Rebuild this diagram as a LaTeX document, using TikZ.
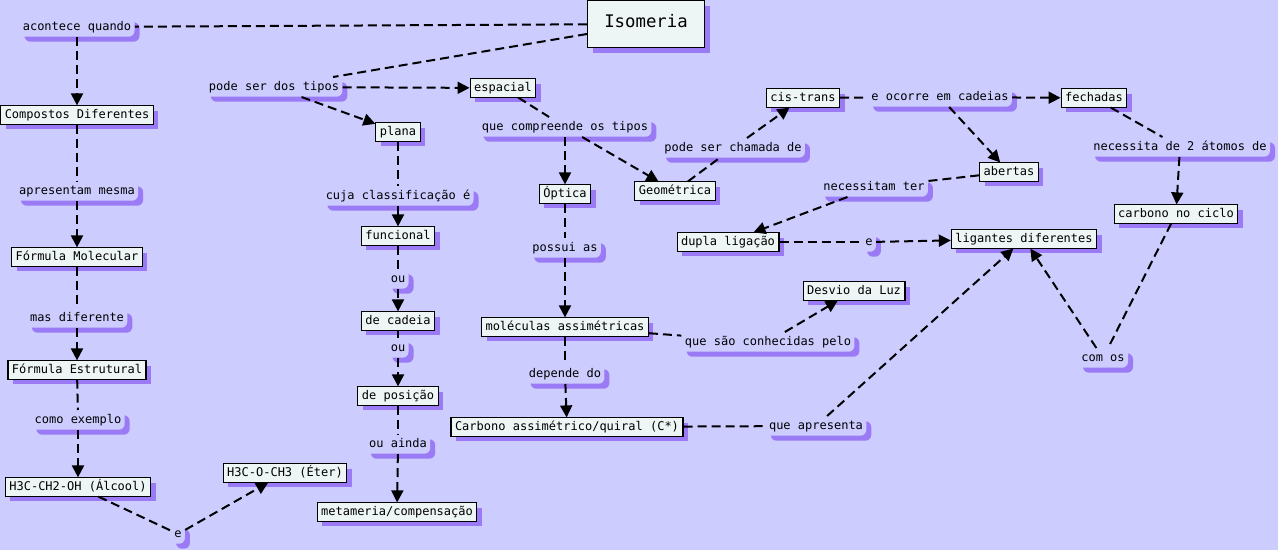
\documentclass[tikz,border=0pt]{standalone}
\usepackage{fontspec}
\setmainfont{DejaVu Sans Mono}
\usepackage{tikz}
\usetikzlibrary{arrows.meta, shadows}
\definecolor{fundo}{RGB}{204,204,255}
\definecolor{sombra}{RGB}{155,122,245}
\definecolor{caixa}{RGB}{238,245,245}

\begin{document}
\begin{tikzpicture}[x=0.75pt, y=-0.75pt,
		font=\fontsize{9}{11}\selectfont,
		conceito/.style={draw=black, line width=0.8pt, fill=caixa, inner xsep=3pt, inner ysep=2.5pt, text height=6.8pt, text depth=1.8pt, drop shadow={shadow xshift=3.75pt, shadow yshift=-3.75pt, fill=sombra, opacity=1}},
		ligacao/.style={fill=fundo, rounded corners=4.5pt, inner xsep=2.5pt, inner ysep=3pt, text height=6.8pt, text depth=1.8pt, drop shadow={shadow xshift=3.75pt, shadow yshift=-3.75pt, fill=sombra, opacity=1}},
		linha/.style={line width=1.5pt, dash pattern=on 6.75pt off 3.75pt},
		seta/.style={linha, -{Triangle[length=9pt, width=9pt]}}]
			\useasboundingbox (0,0) rectangle (1278,550);
			\fill[fundo] (0,0) rectangle (1278,550);

			\node[conceito, font=\fontsize{13}{15}\selectfont, minimum width=87.75pt, minimum height=35.25pt] (iso) at (646,24) {Isomeria};
			\node[ligacao] (acontece) at (77,27) {acontece quando};
			\node[ligacao] (tipos) at (274,87) {pode ser dos tipos};
			\node[conceito] (compostos) at (77,115) {Compostos Diferentes};
			\node[ligacao] (mesma) at (77,191) {apresentam mesma};
			\node[conceito] (molecular) at (77,257) {Fórmula Molecular};
			\node[ligacao] (diferente) at (77,318) {mas diferente};
			\node[conceito] (estrutural) at (77,370) {Fórmula Estrutural};
			\node[ligacao] (exemplo) at (78,420) {como exemplo};
			\node[conceito] (alcool) at (78,487) {H3C-CH2-OH (Álcool)};
			\node[ligacao] (e1) at (178,534) {e};
			\node[conceito] (eter) at (285,473) {H3C-O-CH3 (Éter)};
			\node[conceito] (plana) at (398,132) {plana};
			\node[ligacao] (cuja) at (398,196) {cuja classificação é};
			\node[conceito] (funcional) at (398,236) {funcional};
			\node[ligacao] (ou1) at (398,279) {ou};
			\node[conceito] (cadeia) at (398,321) {de cadeia};
			\node[ligacao] (ou2) at (398,348) {ou};
			\node[conceito] (posicao) at (398,396) {de posição};
			\node[ligacao] (ainda) at (398,444) {ou ainda};
			\node[conceito] (metameria) at (397,512) {metameria/compensação};
			\node[conceito] (espacial) at (503,88) {espacial};
			\node[ligacao] (compreende) at (565,127) {que compreende os tipos};
			\node[conceito] (optica) at (565,194) {Óptica};
			\node[conceito] (geometrica) at (675,191) {Geométrica};
			\node[ligacao] (chamada) at (733,148) {pode ser chamada de};
			\node[conceito] (cistrans) at (803,98) {cis-trans};
			\node[ligacao] (ocorre) at (940,97) {e ocorre em cadeias};
			\node[conceito] (fechadas) at (1094,98) {fechadas};
			\node[conceito] (abertas) at (1009,172) {abertas};
			\node[ligacao] (atomos) at (1180,147) {necessita de 2 átomos de};
			\node[conceito] (ciclo) at (1176,214) {carbono no ciclo};
			\node[ligacao] (necessitam) at (874,187) {necessitam ter};
			\node[conceito] (dupla) at (728,242) {dupla ligação};
			\node[ligacao] (e2) at (869,242) {e};
			\node[conceito] (ligantes) at (1024,239) {ligantes diferentes};
			\node[ligacao] (possui) at (565,248) {possui as};
			\node[conceito] (moleculas) at (565,327) {moléculas assimétricas};
			\node[ligacao] (conhecidas) at (768,342) {que são conhecidas pelo};
			\node[conceito] (desvio) at (854,291) {Desvio da Luz};
			\node[ligacao] (depende) at (565,374) {depende do};
			\node[conceito] (carbono) at (567,427) {Carbono assimétrico/quiral (C*)};
			\node[ligacao] (apresenta) at (816,426) {que apresenta};
			\node[ligacao] (comos) at (1103,358) {com os};

			\draw[linha] (iso) -- (acontece);
			\draw[linha] (iso) -- (tipos);
			\draw[seta] (acontece) -- (compostos);
			\draw[linha] (compostos) -- (mesma);
			\draw[seta] (mesma) -- (molecular);
			\draw[linha] (molecular) -- (diferente);
			\draw[seta] (diferente) -- (estrutural);
			\draw[linha] (estrutural) -- (exemplo);
			\draw[seta] (exemplo) -- (alcool);
			\draw[linha] (alcool) -- (e1);
			\draw[seta] (e1) -- (eter);
			\draw[seta] (tipos) -- (espacial);
			\draw[seta] (tipos) -- (plana);
			\draw[linha] (plana) -- (cuja);
			\draw[seta] (cuja) -- (funcional);
			\draw[linha] (funcional) -- (ou1);
			\draw[seta] (ou1) -- (cadeia);
			\draw[linha] (cadeia) -- (ou2);
			\draw[seta] (ou2) -- (posicao);
			\draw[linha] (posicao) -- (ainda);
			\draw[seta] (ainda) -- (metameria);
			\draw[linha] (espacial) -- (compreende);
			\draw[seta] (compreende) -- (optica);
			\draw[seta] (compreende) -- (geometrica);
			\draw[linha] (geometrica) -- (chamada);
			\draw[seta] (chamada) -- (cistrans);
			\draw[linha] (cistrans) -- (ocorre);
			\draw[seta] (ocorre) -- (fechadas);
			\draw[seta] (ocorre) -- (abertas);
			\draw[linha] (fechadas) -- (atomos);
			\draw[seta] (atomos) -- (ciclo);
			\draw[linha] (abertas) -- (necessitam);
			\draw[seta] (necessitam) -- (dupla);
			\draw[linha] (dupla) -- (e2);
			\draw[seta] (e2) -- (ligantes);
			\draw[linha] (optica) -- (possui);
			\draw[seta] (possui) -- (moleculas);
			\draw[linha] (moleculas) -- (conhecidas);
			\draw[seta] (conhecidas) -- (desvio);
			\draw[linha] (moleculas) -- (depende);
			\draw[seta] (depende) -- (carbono);
			\draw[linha] (carbono) -- (apresenta);
			\draw[seta] (apresenta) -- (ligantes);
			\draw[linha] (ciclo) -- (comos);
			\draw[seta] (comos) -- (ligantes);
		\end{tikzpicture}
\end{document}
